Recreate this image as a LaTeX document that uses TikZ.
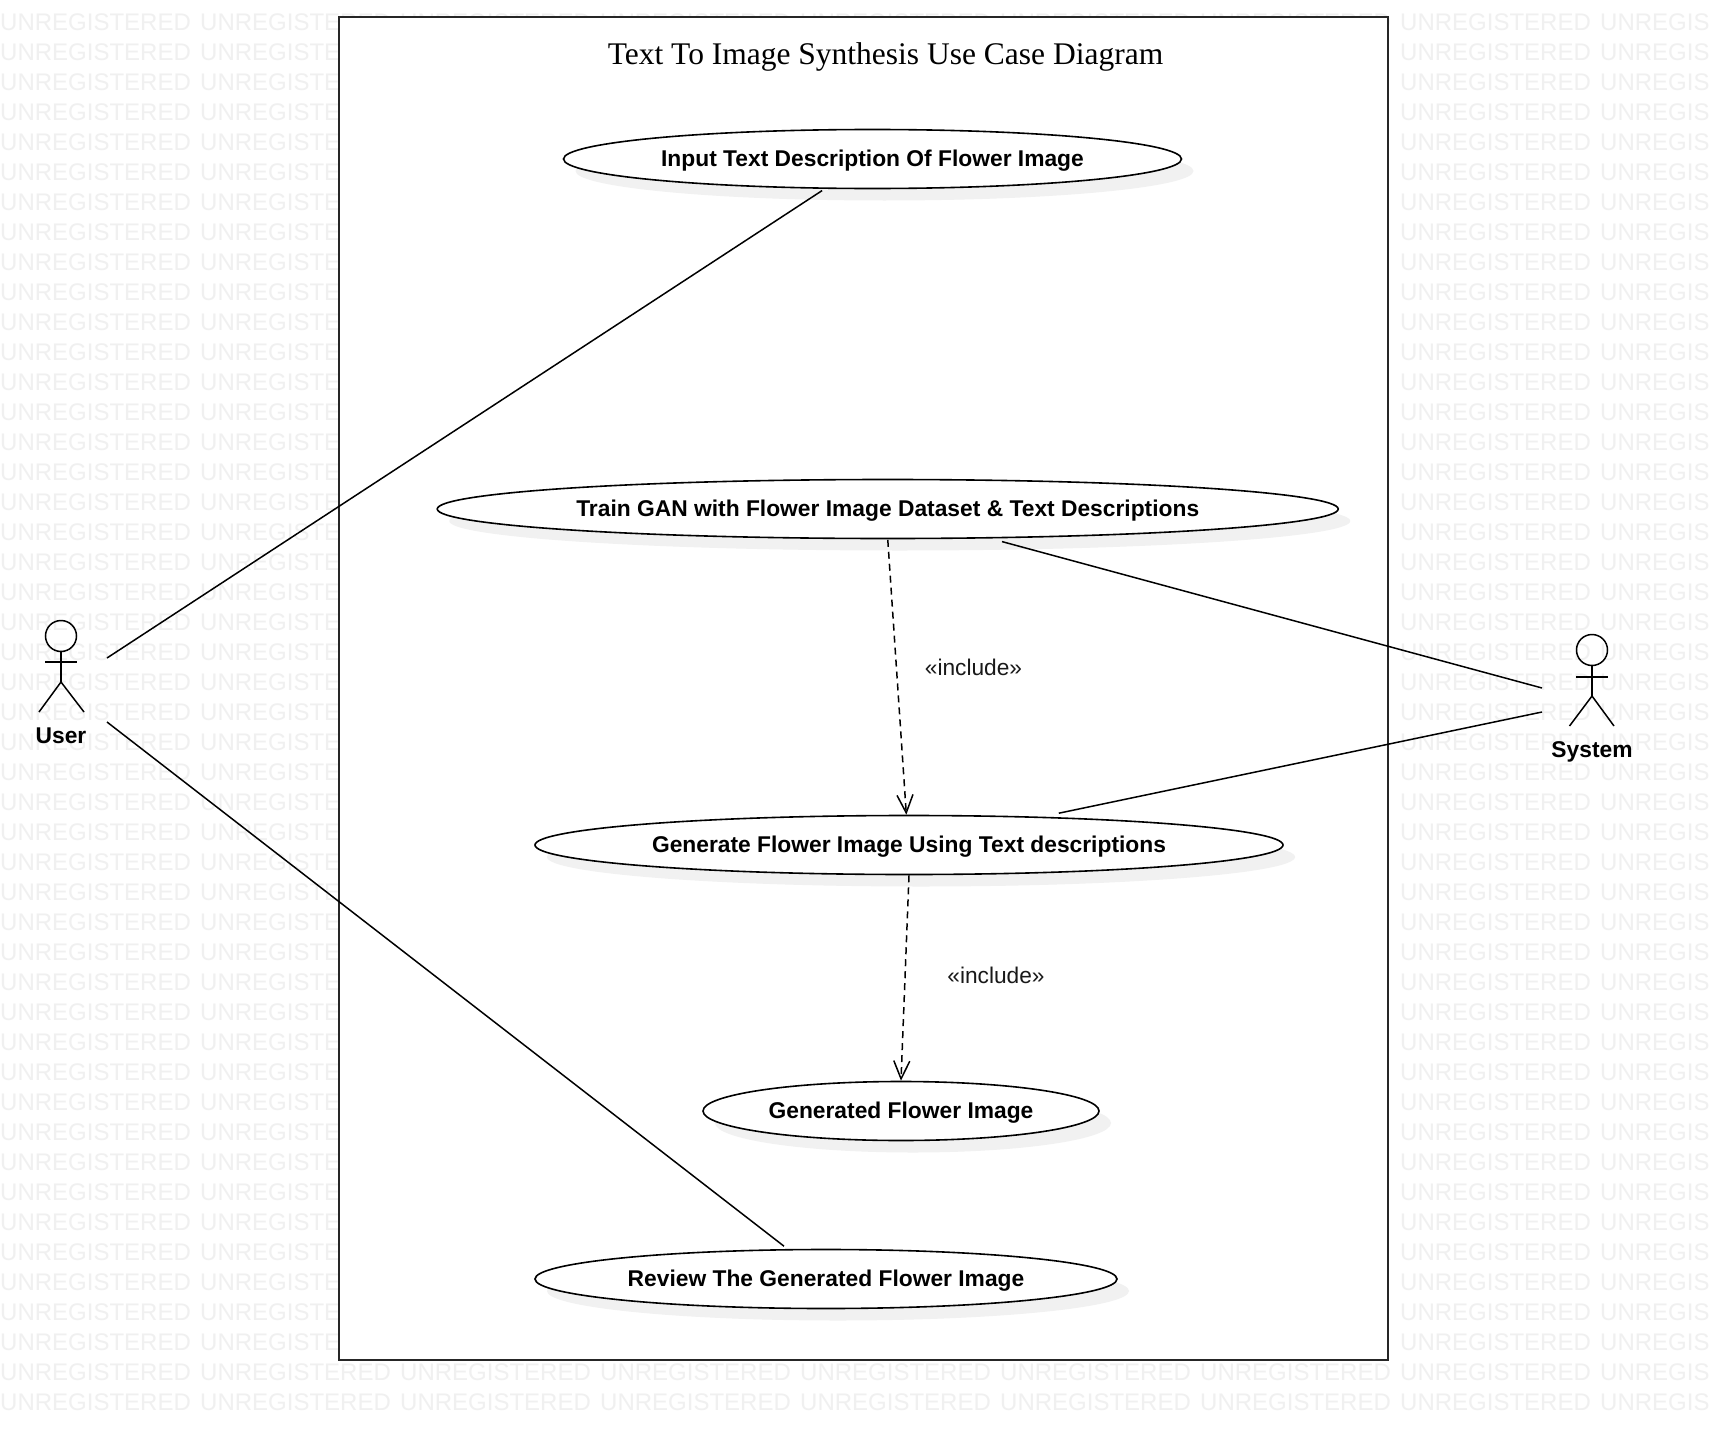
\documentclass[tikz,border=0pt]{standalone}
\usepackage{fontspec}
\setmainfont{Liberation Sans}
\newfontfamily\titlefont{Liberation Serif}
\usetikzlibrary{shapes.geometric,arrows.meta,shadows,calc}
\definecolor{wmgrey}{HTML}{F0F0F0}
\definecolor{shadowgrey}{HTML}{F1F1F1}
\tikzset{
  wm/.style={anchor=west,inner sep=0pt,text=wmgrey,font=\fontsize{24}{28}\selectfont},
  usecase/.style={ellipse,draw=black,line width=1.6pt,fill=white,inner sep=0pt,
    text height=19.8pt,text depth=5pt,
    font=\fontsize{22.8}{27}\selectfont\bfseries,
    drop shadow={shadow xshift=12pt,shadow yshift=-12pt,fill=shadowgrey,opacity=1}},
  sysbox/.style={draw=black!85,line width=2pt,fill=white},
  assoc/.style={draw=black,line width=1.5pt},
  incl/.style={draw=black,line width=1.5pt,dash pattern=on 7pt off 5pt,
    -{Straight Barb[length=18pt,width=16pt,line width=1.5pt]}},
  limb/.style={draw=black,line width=1.5pt},
  head/.style={circle,draw=black,line width=1.5pt,inner sep=0pt,minimum size=31pt},
  actorlabel/.style={font=\fontsize{22.8}{27}\selectfont\bfseries,inner sep=0pt},
  stereo/.style={font=\fontsize{22.7}{27}\selectfont,inner sep=0pt,text=black!90}
}
\begin{document}
\begin{tikzpicture}[x=1pt,y=-1pt]
\useasboundingbox (0,0) rectangle (1709,1429);
\fill[white] (0,0) rectangle (1709,1429);
\begin{scope}
\clip (0,0) rectangle (1709,1429);
\foreach \r in {0,...,46}{
  \foreach \c in {0,...,8}{
    \pgfmathtruncatemacro{\hide}{(\r>0)&&(\r<45)&&(\c>1)&&(\c<7)?1:0}
    \ifnum\hide=0
      \node[wm] (wm-\r-\c) at ({\c*200},{22+30*\r}) {UNREGISTERED};
    \fi
  }
}
\end{scope}
\draw[sysbox] (339,17) rectangle (1388,1360);
\node[inner sep=0pt,font=\fontsize{31.5}{36}\selectfont\titlefont] (title) at (885.5,56.5) {Text To Image Synthesis Use Case Diagram};

\node[usecase,minimum width=618pt,minimum height=59pt] (e1) at (872.5,159) {Input Text Description Of Flower Image};
\node[usecase,minimum width=901pt,minimum height=59pt] (e2) at (887.75,509) {Train GAN with Flower Image Dataset \& Text Descriptions};
\node[usecase,minimum width=748pt,minimum height=59pt] (e3) at (909,845) {Generate Flower Image Using Text descriptions};
\node[usecase,minimum width=396pt,minimum height=59pt] (e4) at (901,1111) {Generated Flower Image};
\node[usecase,minimum width=582pt,minimum height=59pt] (e5) at (826,1279) {Review The Generated Flower Image};

% User actor
\node[head] (userhead) at (61,636) {};
\coordinate (usercrotch) at (61,682);
\draw[limb] (userhead.south) -- (usercrotch);
\draw[limb] (45,662) -- (77,662);
\draw[limb] (39,712) -- (usercrotch) -- (84,712);
\node[actorlabel] (userlabel) at (61,736) {User};
\coordinate (userup) at (107,658);
\coordinate (userdown) at (107,722);

% System actor
\node[head] (syshead) at (1592,650) {};
\coordinate (syscrotch) at (1592,696);
\draw[limb] (syshead.south) -- (syscrotch);
\draw[limb] (1576,677) -- (1608,677);
\draw[limb] (1569.5,726) -- (syscrotch) -- (1614,726);
\node[actorlabel] (syslabel) at (1592,752) {System};
\coordinate (sysup) at (1542,688);
\coordinate (sysdown) at (1542,712);

% Connectors
\draw[assoc,shorten >=3pt] (userup) -- (e1.212.8);
\draw[assoc,shorten >=4.5pt] (userdown) -- (e5.142);
\draw[assoc,shorten <=11.8pt] (e2.344.55) -- (sysup);
\draw[assoc,shorten <=17pt] (e3.12.17) -- (sysdown);
\draw[incl,shorten <=0.5pt] (e2.south) -- (e3.95.8);
\draw[incl] (e3.south) -- (e4.north);

\node[stereo] (inc1) at (973.5,667) {«include»};
\node[stereo] (inc2) at (996,975) {«include»};
\end{tikzpicture}
\end{document}
